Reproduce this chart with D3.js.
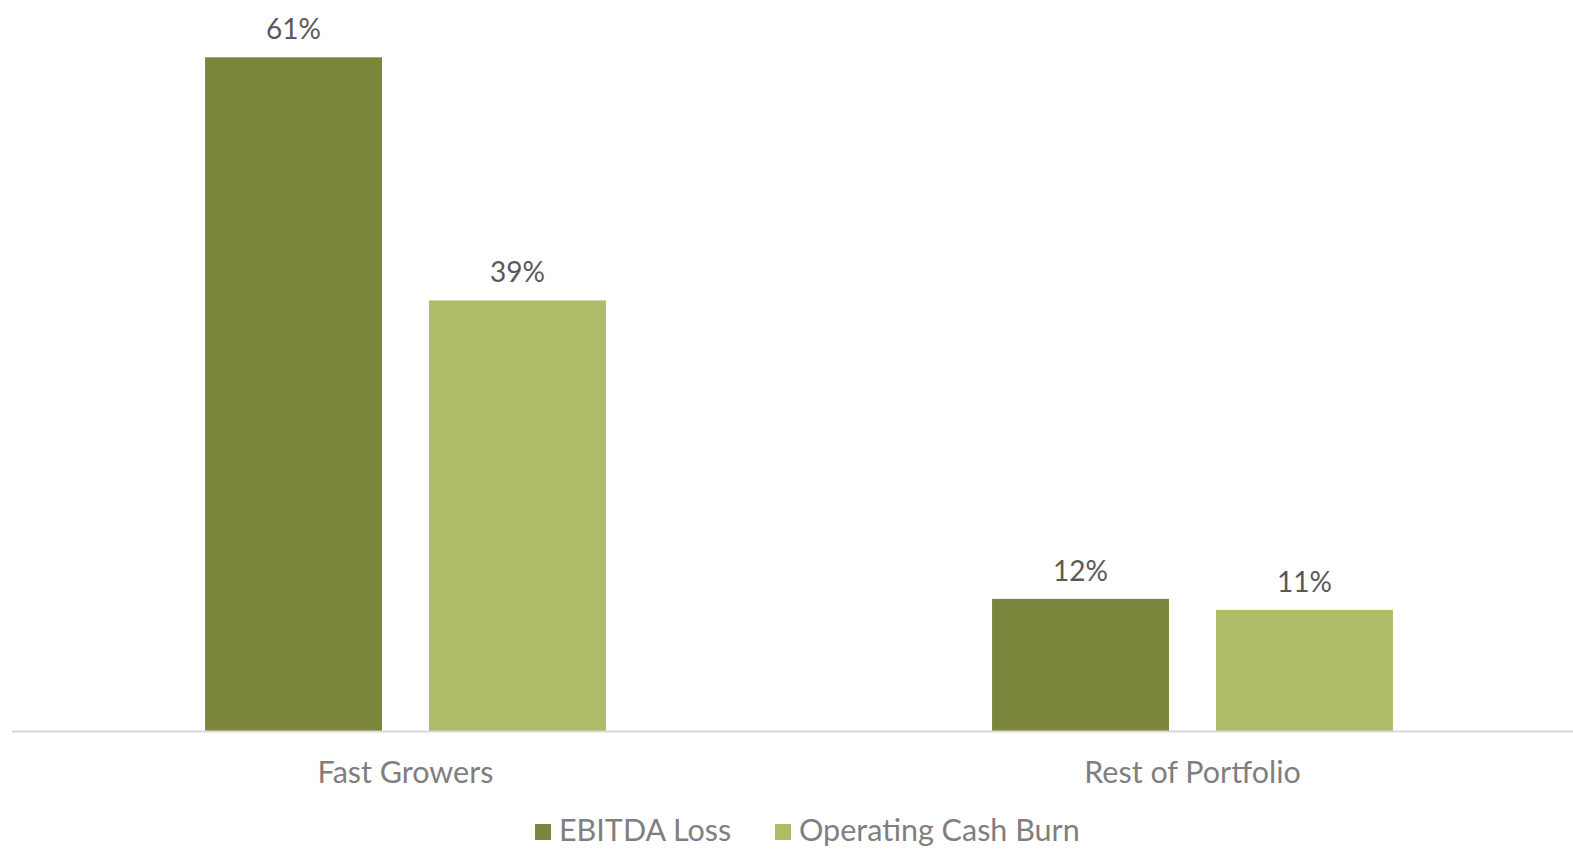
<!DOCTYPE html>
<html>
<head>
<meta charset="utf-8">
<script src="https://cdn.jsdelivr.net/npm/d3@7"></script>
<style>
  html, body { margin: 0; padding: 0; background: #fff; }
  svg { display: block; font-family: "Lato", "Open Sans", sans-serif; }
</style>
</head>
<body>
<svg id="chart" width="1573" height="849"></svg>
<script>
// Share of companies with losses, by portfolio segment
const categories = ["Fast Growers", "Rest of Portfolio"];
const seriesNames = ["EBITDA Loss", "Operating Cash Burn"];
const ebitdaLoss = [61, 12];
const operatingCashBurn = [39, 11];
const seriesColors = ["#7b853b", "#b0bb67"];

const rows = categories.map((c, i) => ({
  category: c,
  values: [
    { series: seriesNames[0], value: ebitdaLoss[i] },
    { series: seriesNames[1], value: operatingCashBurn[i] }
  ]
}));

const svg = d3.select("#chart");
const baseY = 731.5;

const x0 = d3.scaleBand().domain(categories).range([12, 1586]).paddingInner(0).paddingOuter(0);
const x1 = d3.scaleBand().domain(seriesNames).range([0, x0.bandwidth()])
  .paddingInner(0.21).paddingOuter(0.862);
const y = d3.scaleLinear().domain([0, 61]).range([baseY, 57.3]);
const color = d3.scaleOrdinal().domain(seriesNames).range(seriesColors);

const groups = svg.selectAll("g.group").data(rows).join("g")
  .attr("class", "group")
  .attr("transform", d => `translate(${x0(d.category)},0)`);

groups.selectAll("rect").data(d => d.values).join("rect")
  .attr("x", d => x1(d.series))
  .attr("width", x1.bandwidth())
  .attr("y", d => y(d.value))
  .attr("height", d => baseY - y(d.value))
  .attr("fill", d => color(d.series));

groups.selectAll("text.value").data(d => d.values).join("text")
  .attr("class", "value")
  .attr("x", d => x1(d.series) + x1.bandwidth() / 2)
  .attr("y", d => y(d.value) - 18)
  .attr("text-anchor", "middle")
  .attr("font-size", 28)
  .attr("fill", "#595959")
  .text(d => d.value + "%");

// Category axis
const xAxis = svg.append("g").attr("transform", `translate(0,${baseY})`)
  .call(d3.axisBottom(x0).tickSize(0).tickPadding(0));
xAxis.select(".domain").attr("stroke", "#d9d9d9").attr("stroke-width", 2)
  .attr("d", `M12,0H1573`);
xAxis.selectAll(".tick text")
  .attr("font-family", "Lato, 'Open Sans', sans-serif")
  .attr("font-size", 30.5)
  .attr("fill", "#7f7f7f")
  .attr("y", 51)
  .attr("dy", 0);

// Legend
const legendItems = [
  { name: seriesNames[0], x: 535 },
  { name: seriesNames[1], x: 775 }
];
const legend = svg.append("g");
const li = legend.selectAll("g").data(legendItems).join("g")
  .attr("transform", d => `translate(${d.x},0)`);
li.append("rect").attr("y", 824).attr("width", 16).attr("height", 16).attr("fill", d => color(d.name));
li.append("text").attr("x", 24).attr("y", 841)
  .attr("font-size", 30.5).attr("fill", "#7f7f7f").text(d => d.name);
</script>
</body>
</html>
